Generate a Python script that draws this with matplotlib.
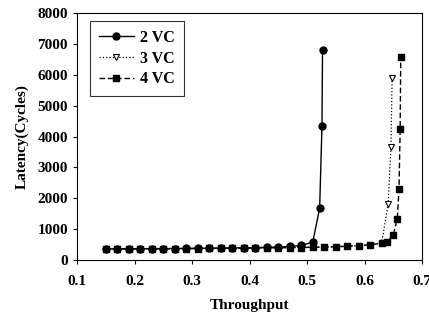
import matplotlib
matplotlib.use('Agg')
import matplotlib.pyplot as plt

# data
thr_2vc = [0.15, 0.17, 0.19, 0.21, 0.23, 0.25, 0.27, 0.29, 0.31, 0.33, 0.35,
           0.37, 0.39, 0.41, 0.43, 0.45, 0.47, 0.49, 0.51, 0.522, 0.526, 0.527]
lat_2vc = [360, 362, 364, 366, 368, 370, 372, 375, 378, 382, 386,
           390, 395, 400, 410, 420, 440, 470, 580, 1680, 4330, 6820]

thr_3vc = [0.15, 0.17, 0.19, 0.21, 0.23, 0.25, 0.27, 0.29, 0.31, 0.33, 0.35,
           0.37, 0.39, 0.41, 0.43, 0.45, 0.47, 0.49, 0.51, 0.53, 0.55, 0.57,
           0.59, 0.61, 0.63, 0.641, 0.646, 0.648]
lat_3vc = [355, 357, 359, 361, 363, 365, 367, 369, 372, 375, 378,
           381, 384, 388, 392, 396, 400, 405, 412, 420, 430, 445,
           465, 495, 560, 1810, 3670, 5890]

thr_4vc = [0.15, 0.17, 0.19, 0.21, 0.23, 0.25, 0.27, 0.29, 0.31, 0.33, 0.35,
           0.37, 0.39, 0.41, 0.43, 0.45, 0.47, 0.49, 0.51, 0.53, 0.55, 0.57,
           0.59, 0.61, 0.63, 0.639, 0.65, 0.657, 0.66, 0.662, 0.663]
lat_4vc = [355, 357, 359, 361, 363, 365, 367, 369, 372, 375, 378,
           381, 384, 388, 392, 396, 400, 405, 412, 420, 430, 445,
           465, 495, 540, 580, 810, 1340, 2310, 4240, 6580]

plt.rcParams['font.family'] = 'Liberation Serif'
plt.rcParams['font.weight'] = 'bold'

fig = plt.figure(figsize=(4.29, 3.2), dpi=100)
ax = fig.add_axes([0.1795, 0.1875, 0.8042, 0.7715])

ax.plot(thr_2vc, lat_2vc, '-', color='black', lw=1.0, marker='o', ms=5,
        label='2 VC')
ax.plot(thr_3vc, lat_3vc, ':', color='black', lw=0.9, marker='v', ms=5,
        mfc='white', mec='black', mew=0.8, label='3 VC')
ax.plot(thr_4vc, lat_4vc, '--', color='black', lw=1.0, marker='s', ms=4.6,
        dashes=(4, 2), label='4 VC')

ax.set_xlim(0.1, 0.7)
ax.set_ylim(0, 8000)
ax.set_xticks([0.1, 0.2, 0.3, 0.4, 0.5, 0.6, 0.7])
ax.set_xticklabels(['0.1', '0.2', '0.3', '0.4', '0.5', '0.6', '0.7'])
ax.set_yticks(range(0, 8001, 1000))
ax.tick_params(labelsize=11, direction='out', length=3, width=0.8)
ax.tick_params(axis='x', pad=8)
for s in ax.spines.values():
    s.set_linewidth(0.8)

ax.set_xlabel('Throughput', fontsize=11, fontweight='bold', labelpad=8)
ax.set_ylabel('Latency(Cycles)', fontsize=11, fontweight='bold', labelpad=6)

leg = ax.legend(loc='upper left', bbox_to_anchor=(0.038, 0.968), fontsize=11.5,
                frameon=True, fancybox=False, edgecolor='black',
                borderaxespad=0, handlelength=2.2, handletextpad=0.4,
                borderpad=0.55, labelspacing=0.3)
leg.get_frame().set_linewidth(0.8)

plt.savefig('out.png', dpi=100)
